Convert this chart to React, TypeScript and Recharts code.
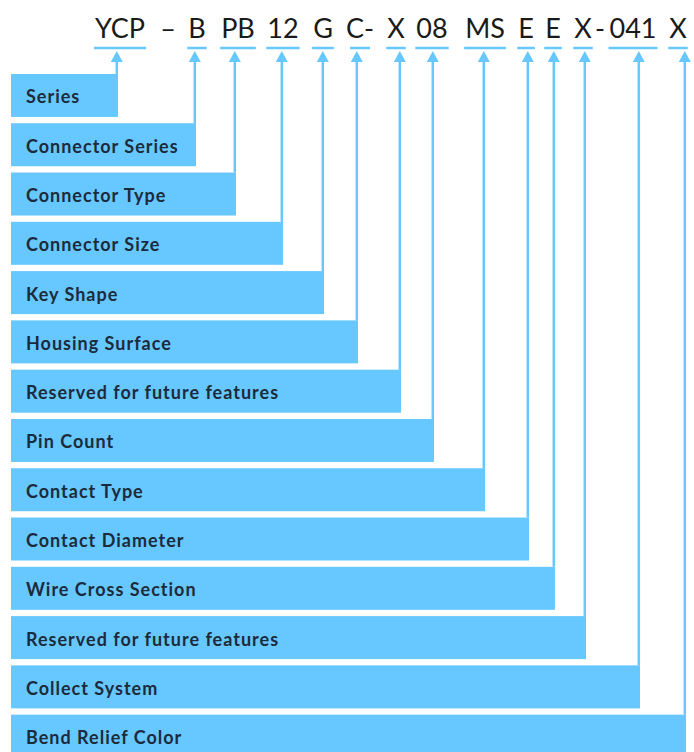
import { BarChart, Bar, XAxis, YAxis, LabelList } from 'recharts';

// field names, top to bottom
const fields = [
  'Series',
  'Connector Series',
  'Connector Type',
  'Connector Size',
  'Key Shape',
  'Housing Surface',
  'Reserved for future features',
  'Pin Count',
  'Contact Type',
  'Contact Diameter',
  'Wire Cross Section',
  'Reserved for future features',
  'Collect System',
  'Bend Relief Color',
];

// where each field's lead line meets the code (same units as the code axis)
const reach = [107, 185, 225, 272, 313, 347, 390, 423, 474, 518, 544, 575, 629, 675];

// the part number, split in pieces, and the centre of each piece
const codeTokens = ['YCP', '–', 'B', 'PB', '12', 'G', 'C-', 'X', '08', 'MS', 'E', 'E', 'X', '-', '041', 'X'];
const codePos = [109, 157, 186, 227, 272, 312, 349, 385, 421, 474, 515, 542, 572, 589, 622, 667];

const rows = fields.map((name, i) => ({ key: i, name, reach: reach[i] }));

const BLUE = '#66c8ff';
const CODE_FONT = '27px Lato, sans-serif';
const CODE_BASELINE = 38;
const UNDERLINE_Y = 48;
const ARROW_TIP = 51;
const ARROW_BASE = 62;

let ctx: CanvasRenderingContext2D | null = null;
function textWidth(s: string) {
  if (!ctx) ctx = document.createElement('canvas').getContext('2d');
  if (!ctx) return s.length * 15;
  ctx.font = CODE_FONT;
  return ctx.measureText(s).width;
}

function CodeTick(props: any) {
  const { x, index } = props;
  const token = codeTokens[index] ?? String(props.payload?.value ?? '');
  const dash = token === '–' || token === '-';
  const w = textWidth(token.replace('-', ''));
  return (
    <g>
      <text x={x} y={CODE_BASELINE} textAnchor="middle" fill="#1a1a1a" style={{ font: CODE_FONT }}>
        {token}
      </text>
      {!dash && (
        <line x1={x - w / 2 - 1} x2={x + w / 2 + 1} y1={UNDERLINE_Y} y2={UNDERLINE_Y} stroke={BLUE} strokeWidth={2.5} />
      )}
    </g>
  );
}

function LeadBar(props: any) {
  const { x, y, width, height } = props;
  const ex = x + width - 1.2;
  return (
    <g>
      <rect x={x} y={y} width={width} height={height} fill={BLUE} />
      <line x1={ex} x2={ex} y1={y} y2={ARROW_BASE - 1} stroke={BLUE} strokeWidth={2.5} />
      <polygon points={`${ex},${ARROW_TIP} ${ex - 6},${ARROW_BASE} ${ex + 6},${ARROW_BASE}`} fill={BLUE} />
    </g>
  );
}

function FieldLabel(props: any) {
  const { x, y, height, value } = props;
  return (
    <text
      x={x + 15}
      y={y + height / 2 + 1}
      dominantBaseline="central"
      fill="#1c2b3b"
      style={{ font: 'bold 18px Lato, sans-serif', letterSpacing: 1 }}
    >
      {value}
    </text>
  );
}

export default function App() {
  return (
    <div style={{ position: 'absolute', left: 0, top: 0, width: 694, height: 752, overflow: 'hidden', background: '#fff' }}>
      <BarChart
        width={694}
        height={762}
        data={rows}
        layout="vertical"
        margin={{ top: 31, right: 0, left: 11, bottom: 1 }}
        barCategoryGap="6%"
      >
        <XAxis
          xAxisId="top"
          orientation="top"
          type="number"
          domain={[0, 683]}
          ticks={codePos}
          interval={0}
          height={40}
          axisLine={false}
          tickLine={false}
          tick={<CodeTick />}
        />
        <YAxis type="category" dataKey="key" hide />
        <Bar xAxisId="top" dataKey="reach" shape={<LeadBar />} isAnimationActive={false}>
          <LabelList dataKey="name" content={<FieldLabel />} />
        </Bar>
      </BarChart>
    </div>
  );
}
